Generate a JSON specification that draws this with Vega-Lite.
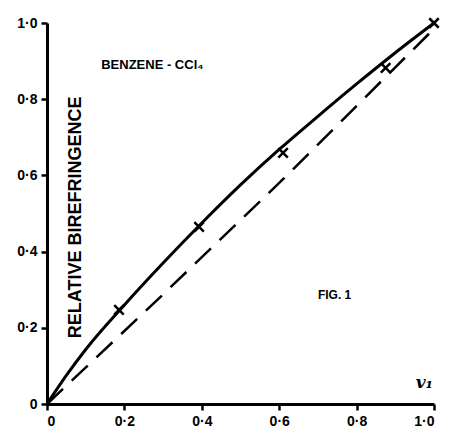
{
  "$schema": "https://vega.github.io/schema/vega-lite/v6.json",
  "width": 387,
  "height": 381,
  "autosize": "none",
  "padding": {"left": 47, "top": 23, "right": 15, "bottom": 28},
  "background": "white",
  "config": {
    "view": {"stroke": null},
    "font": "Liberation Sans",
    "axis": {
      "domainColor": "black", "domainWidth": 3, "tickColor": "black", "tickWidth": 2.5, "tickSize": 6,
      "labelColor": "black", "labelFont": "Liberation Sans", "labelFontWeight": "bold", "labelFontSize": 14,
      "grid": false, "title": null, "labelPadding": 4
    }
  },
  "datasets": {
    "curve": [
      {"v": 0, "b": 0}, {"v": 0.05, "b": 0.075}, {"v": 0.1, "b": 0.143}, {"v": 0.2, "b": 0.26},
      {"v": 0.3, "b": 0.37}, {"v": 0.4, "b": 0.475}, {"v": 0.5, "b": 0.575}, {"v": 0.6, "b": 0.668},
      {"v": 0.7, "b": 0.755}, {"v": 0.8, "b": 0.84}, {"v": 0.9, "b": 0.922}, {"v": 1.0, "b": 1.0}
    ],
    "dashed": [
      {"v": 0, "b": 0}, {"v": 0.29, "b": 0.278}, {"v": 0.61, "b": 0.59}, {"v": 1.0, "b": 0.985}
    ],
    "points": [
      {"v": 0.186, "b": 0.247}, {"v": 0.393, "b": 0.465}, {"v": 0.61, "b": 0.659}, {"v": 0.875, "b": 0.882}, {"v": 1.0, "b": 1.0}
    ],
    "labels": [
      {"v": 0.14, "b": 0.89, "t": "BENZENE - CCl₄", "s": 13},
      {"v": 0.70, "b": 0.286, "t": "FIG. 1", "s": 12}
    ]
  },
  "layer": [
    {
      "data": {"name": "dashed"},
      "mark": {"type": "line", "color": "black", "strokeWidth": 2.5, "strokeDash": [22, 12]},
      "encoding": {
        "x": {"field": "v", "type": "quantitative", "scale": {"domain": [0, 1], "nice": false},
          "axis": {"values": [0, 0.1, 0.2, 0.3, 0.4, 0.5, 0.6, 0.7, 0.8, 0.9, 1.0],
            "labelExpr": "(round(datum.value*10)%2==1) ? '' : (datum.value==0 ? '0' : replace(format(datum.value, '.1f'), '.', '·'))"}},
        "y": {"field": "b", "type": "quantitative", "scale": {"domain": [0, 1], "nice": false},
          "axis": {"values": [0, 0.1, 0.2, 0.3, 0.4, 0.5, 0.6, 0.7, 0.8, 0.9, 1.0],
            "labelExpr": "(round(datum.value*10)%2==1) ? '' : (datum.value==0 ? '0' : replace(format(datum.value, '.1f'), '.', '·'))"}}
      }
    },
    {
      "data": {"name": "curve"},
      "mark": {"type": "line", "color": "black", "strokeWidth": 3, "interpolate": "monotone"},
      "encoding": {
        "x": {"field": "v", "type": "quantitative"},
        "y": {"field": "b", "type": "quantitative"}
      }
    },
    {
      "data": {"name": "points"},
      "mark": {"type": "point", "shape": "M-1,-1L1,1M-1,1L1,-1", "stroke": "black", "strokeWidth": 2.5, "size": 90, "filled": false, "opacity": 1},
      "encoding": {
        "x": {"field": "v", "type": "quantitative"},
        "y": {"field": "b", "type": "quantitative"}
      }
    },
    {
      "data": {"name": "labels"},
      "mark": {"type": "text", "font": "Liberation Sans", "fontWeight": "bold", "color": "black", "align": "left", "baseline": "middle"},
      "encoding": {
        "x": {"field": "v", "type": "quantitative"},
        "y": {"field": "b", "type": "quantitative"},
        "text": {"field": "t"},
        "size": {"field": "s", "type": "quantitative", "scale": null}
      }
    },
    {
      "data": {"values": [{"v": 0.075, "b": 0.49, "t": "RELATIVE BIREFRINGENCE"}]},
      "mark": {"type": "text", "font": "Liberation Sans", "fontWeight": "bold", "fontSize": 18, "angle": 270, "color": "black", "align": "center", "baseline": "middle"},
      "encoding": {
        "x": {"field": "v", "type": "quantitative"},
        "y": {"field": "b", "type": "quantitative"},
        "text": {"field": "t"}
      }
    },
    {
      "data": {"values": [{"v": 0.975, "b": 0.055, "t": "v₁"}]},
      "mark": {"type": "text", "font": "DejaVu Serif", "fontStyle": "italic", "fontWeight": "bold", "fontSize": 17, "color": "black", "align": "center", "baseline": "middle"},
      "encoding": {
        "x": {"field": "v", "type": "quantitative"},
        "y": {"field": "b", "type": "quantitative"},
        "text": {"field": "t"}
      }
    }
  ]
}
